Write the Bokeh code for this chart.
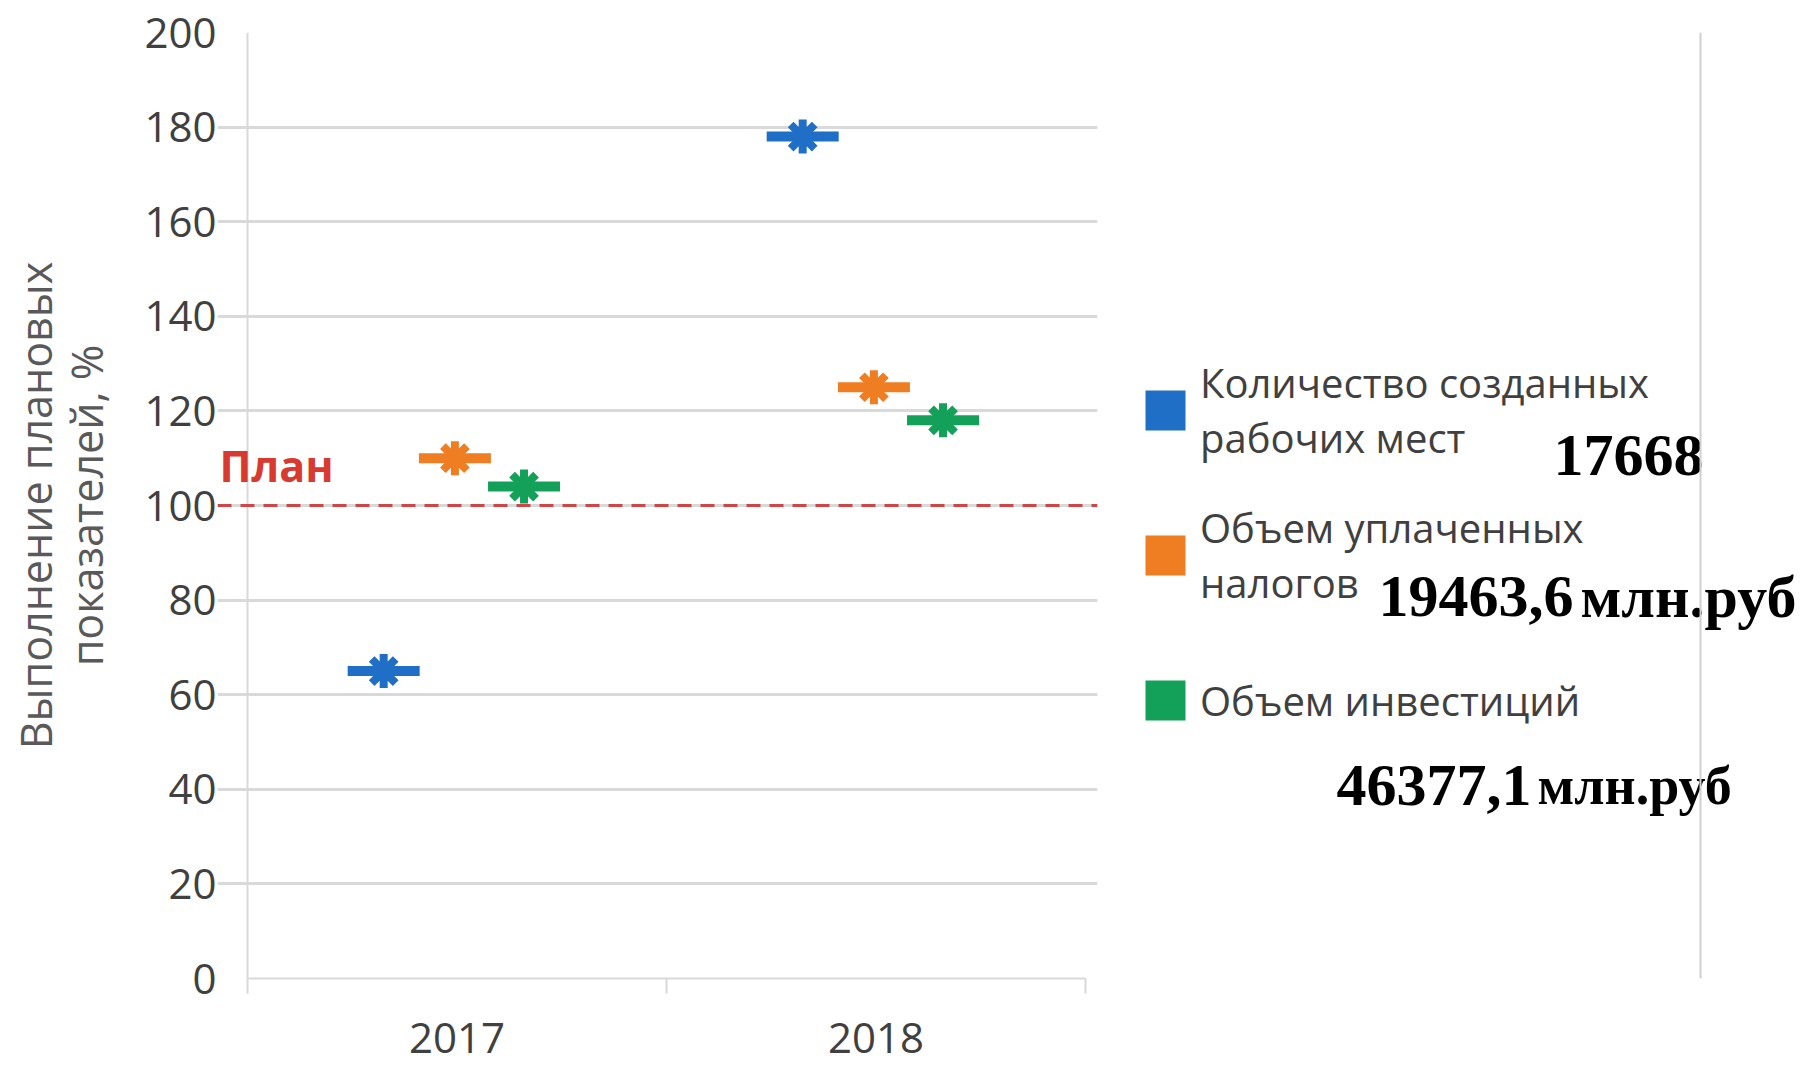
from bokeh.plotting import figure
from bokeh.layouts import row
from bokeh.models import (Range1d, FixedTicker, Span, Label, Legend, LegendItem, ColumnDataSource)
from bokeh.embed import file_html
from bokeh.resources import INLINE

# ---------------- data ----------------
years = ["2017", "2018"]
series_names = ["Количество созданных\nрабочих мест",
                "Объем уплаченных\nналогов",
                "Объем инвестиций"]
jobs_pct = [65, 178]
taxes_pct = [110, 125]
invest_pct = [104, 118]
plan_level = 100
plan_label = "План"
totals = ["17668", "19463,6", "46377,1"]
totals_units = ["", "млн.руб", "млн.руб"]
y_ticks = [0, 20, 40, 60, 80, 100, 120, 140, 160, 180, 200]
y_title = "Выполнение плановых\nпоказателей, %"

# ---------------- style / layout ----------------
colors = ["#1f6fc6", "#ef7d22", "#13a058"]
offsets = [-0.175, -0.005, 0.16]
FONT = "Open Sans"
GRID = "#d9d9d9"

W, H = 1801, 1066
W1 = 1110                      # width of the chart part
AX_L, AX_R = 247, 1085         # pixel x of the category axis ends
FL, FR, FT, FB = 217, 1097, 32, 978   # frame edges
scale = (AX_R - AX_L) / len(years)
x_start = -(AX_L - FL) / scale
x_end = len(years) + (FR - AX_R) / scale

p = figure(width=W1, height=H, x_range=Range1d(x_start, x_end), y_range=Range1d(0, 200),
           output_backend="svg", toolbar_location=None,
           min_border_left=FL, min_border_right=W1 - FR,
           min_border_top=FT, min_border_bottom=H - FB)
p.outline_line_color = None

# grid (restricted to the category span)
p.xgrid.visible = False
p.ygrid.ticker = FixedTicker(ticks=y_ticks)
p.ygrid.grid_line_color = GRID
p.ygrid.grid_line_width = 3
p.ygrid.bounds = (0, len(years))

# y axis
yax = p.yaxis[0]
yax.ticker = FixedTicker(ticks=y_ticks)
yax.axis_line_color = None
yax.major_tick_line_color = None
yax.minor_tick_line_color = None
yax.major_tick_out = 0
yax.major_tick_in = 0
yax.major_label_text_font = FONT
yax.major_label_text_font_size = "42px"
yax.major_label_text_color = "#404040"
yax.major_label_standoff = 1
yax.axis_label = y_title
yax.axis_label_text_font = FONT
yax.axis_label_text_font_size = "43px"
yax.axis_label_text_font_style = "normal"
yax.axis_label_text_color = "#595959"
yax.axis_label_text_line_height = 0.88
yax.axis_label_standoff = 25
# vertical axis line at the start of the categories
p.add_layout(Span(location=0, dimension="height", line_color=GRID, line_width=2))

# x axis: labels at category centres, ticks at category boundaries
centres = [i + 0.5 for i in range(len(years))]
bounds = [float(i) for i in range(len(years) + 1)]
xax = p.xaxis[0]
xax.bounds = (0, len(years))
xax.ticker = FixedTicker(ticks=centres, minor_ticks=bounds)
xax.major_label_overrides = {c: y for c, y in zip(centres, years)}
xax.axis_line_color = GRID
xax.axis_line_width = 2
xax.major_tick_line_color = None
xax.major_tick_out = 0
xax.major_tick_in = 0
xax.minor_tick_out = 15
xax.minor_tick_in = 0
xax.minor_tick_line_color = GRID
xax.minor_tick_line_width = 2
xax.major_label_text_font = FONT
xax.major_label_text_font_size = "42px"
xax.major_label_text_color = "#404040"
xax.major_label_standoff = 29

# plan line
p.add_layout(Span(location=plan_level, dimension="width", line_color="#d04545",
                  line_dash="14 9", line_width=3))
p.add_layout(Label(x=2, y=FB - 465, x_units="screen", y_units="screen", text=plan_label,
                   text_font=FONT, text_font_style="bold", text_font_size="43px",
                   text_color="#d83a30", text_baseline="alphabetic"))

# series
series_values = [jobs_pct, taxes_pct, invest_pct]
sources = []
for vals, col, off in zip(series_values, colors, offsets):
    src = ColumnDataSource(dict(x=[c + off for c in centres], y=vals))
    sources.append(src)
    p.scatter("x", "y", source=src, marker="dash", size=72, line_color=col, line_width=10)
    p.scatter("x", "y", source=src, marker="asterisk", size=34, line_color=col, line_width=8)

# ---------------- legend panel (pixel coordinates) ----------------
W2 = W - W1
q = figure(width=W2, height=H, x_range=Range1d(W1, W), y_range=Range1d(FB, FT),
           output_backend="svg", toolbar_location=None,
           x_axis_location=None, y_axis_location=None,
           min_border_left=0, min_border_right=0,
           min_border_top=FT, min_border_bottom=H - FB)
q.outline_line_color = None
q.xgrid.visible = False
q.ygrid.visible = False

legend_items = []
for name, col, src in zip(series_names, colors, sources):
    # hidden proxy renderer that supplies the square legend swatch
    proxy = q.quad(left="x", right="x", top="y", bottom="y", source=src,
                   fill_color=col, line_color=None, visible=False)
    legend_items.append(LegendItem(label=name, renderers=[proxy]))

legend = Legend(items=legend_items, location=(1140 - W1, FB - 763), orientation="vertical",
                glyph_width=50, glyph_height=50, label_height=126, spacing=19,
                padding=0, margin=0, border_line_color=None, background_fill_alpha=0,
                label_text_font=FONT, label_text_font_size="40px",
                label_text_color="#404040", label_text_line_height=1.6,
                label_standoff=10, inactive_fill_alpha=0)
q.add_layout(legend)

tot_pos = [(1553, 455), (1378, 596), (1336, 785)]
unit_pos = [None, (1580, 596), (1537, 785)]
unit_size = [None, "60px", "54px"]
for t, u, tp, up, us in zip(totals, totals_units, tot_pos, unit_pos, unit_size):
    q.add_layout(Label(x=tp[0], y=tp[1], text=t,
                       text_font="Liberation Serif", text_font_style="bold",
                       text_font_size="60px", text_color="black", text_baseline="alphabetic"))
    if u:
        q.add_layout(Label(x=up[0], y=up[1], text=u,
                           text_font="Liberation Serif", text_font_style="bold",
                           text_font_size=us, text_color="black", text_baseline="alphabetic"))

q.add_layout(Span(location=1700, dimension="height", line_color="#cfcfcf", line_width=2))

open("out.html", "w").write(file_html(row(p, q), INLINE))
